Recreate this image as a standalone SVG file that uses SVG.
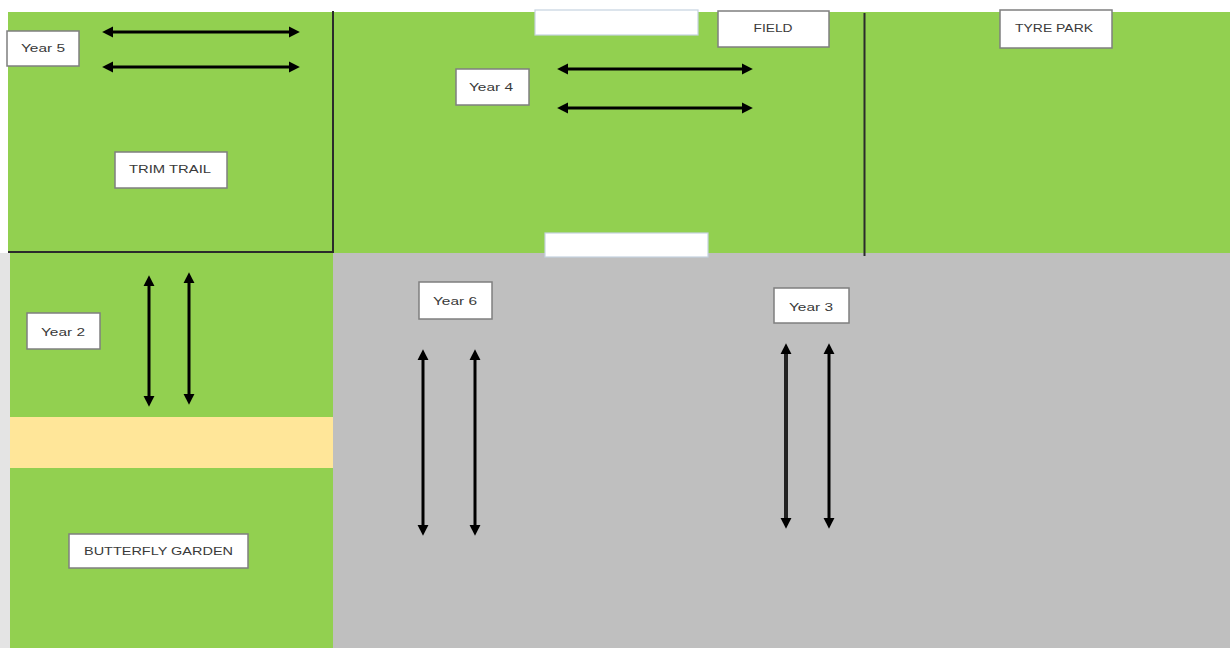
<svg xmlns="http://www.w3.org/2000/svg" width="1230" height="648" viewBox="0 0 1230 648">
  <style>
    .grass { fill: #92d050; }
    .hard { fill: #bfbfbf; }
    .path { fill: #ffe699; }
    .wall { stroke: #2b2b2b; stroke-width: 2; fill: none; }
    .label { fill: #ffffff; stroke: #7f7f7f; stroke-width: 1.5; }
    .blank { fill: #ffffff; stroke: #c5d3e0; stroke-width: 1.2; }
    .txt { font-family: "Liberation Sans", Arial, sans-serif; font-size: 11.5px; fill: #3a3a3a; text-anchor: middle; }
    .arrow { stroke: #000000; stroke-width: 3; fill: none; marker-start: url(#head); marker-end: url(#head); }
  </style>
  <defs>
    <marker id="head" viewBox="0 0 10 10" refX="6.5" refY="5" markerWidth="11" markerHeight="12" markerUnits="userSpaceOnUse" orient="auto-start-reverse">
      <path d="M0,0 L10,5 L0,10 z" fill="#000000"/>
    </marker>
  </defs>

  <rect x="0" y="0" width="1230" height="648" fill="#ffffff"/>

  <g id="ground">
    <rect class="grass" x="8" y="12" width="1222" height="241"/>
    <rect x="0" y="253" width="10" height="395" fill="#e4e4e4"/>
    <rect class="grass" x="10" y="253" width="323" height="395"/>
    <rect class="hard" x="333" y="253" width="897" height="395"/>
    <rect class="path" x="10" y="417" width="323" height="51"/>
    <line class="wall" x1="333" y1="11" x2="333" y2="253"/>
    <line class="wall" x1="8" y1="252" x2="334" y2="252"/>
    <line class="wall" x1="864.5" y1="13" x2="864.5" y2="256"/>
  </g>

  <g id="connectors">
    <line class="arrow" x1="106" y1="32" x2="296" y2="32"/>
    <line class="arrow" x1="106" y1="67" x2="296" y2="67"/>
    <line class="arrow" x1="561" y1="69" x2="749" y2="69"/>
    <line class="arrow" x1="561" y1="108" x2="749" y2="108"/>
    <line class="arrow" x1="149" y1="279" x2="149" y2="403"/>
    <line class="arrow" x1="189" y1="276" x2="189" y2="401"/>
    <line class="arrow" x1="423" y1="353" x2="423" y2="532"/>
    <line class="arrow" x1="475" y1="353" x2="475" y2="532"/>
    <line class="arrow" x1="786" y1="347" x2="786" y2="525" style="stroke:#222;stroke-width:4"/>
    <line class="arrow" x1="829" y1="347" x2="829" y2="525"/>
  </g>

  <g id="blank-top">
    <rect class="blank" x="535" y="10" width="163" height="25"/>
  </g>
  <g id="blank-bottom">
    <rect class="blank" x="545" y="233" width="163" height="24"/>
  </g>

  <g id="year5">
    <rect class="label" x="7" y="31" width="72" height="35"/>
    <text class="txt" x="43" y="52" textLength="44" lengthAdjust="spacingAndGlyphs">Year 5</text>
  </g>
  <g id="trim-trail">
    <rect class="label" x="115" y="152" width="112" height="36"/>
    <text class="txt" x="170" y="173" textLength="82" lengthAdjust="spacingAndGlyphs">TRIM TRAIL</text>
  </g>
  <g id="field">
    <rect class="label" x="718" y="11" width="111" height="36"/>
    <text class="txt" x="773" y="32" textLength="39" lengthAdjust="spacingAndGlyphs">FIELD</text>
  </g>
  <g id="year4">
    <rect class="label" x="456" y="69" width="73" height="36"/>
    <text class="txt" x="491" y="91" textLength="44" lengthAdjust="spacingAndGlyphs">Year 4</text>
  </g>
  <g id="tyre-park">
    <rect class="label" x="1000" y="10" width="112" height="38"/>
    <text class="txt" x="1054" y="32" textLength="78" lengthAdjust="spacingAndGlyphs">TYRE PARK</text>
  </g>
  <g id="year2">
    <rect class="label" x="27" y="313" width="73" height="36"/>
    <text class="txt" x="63" y="336" textLength="44" lengthAdjust="spacingAndGlyphs">Year 2</text>
  </g>
  <g id="butterfly-garden">
    <rect class="label" x="69" y="534" width="179" height="34"/>
    <text class="txt" x="158.5" y="555" textLength="149" lengthAdjust="spacingAndGlyphs">BUTTERFLY GARDEN</text>
  </g>
  <g id="year6">
    <rect class="label" x="419" y="282" width="73" height="37"/>
    <text class="txt" x="455" y="305" textLength="44" lengthAdjust="spacingAndGlyphs">Year 6</text>
  </g>
  <g id="year3">
    <rect class="label" x="774" y="288" width="75" height="35"/>
    <text class="txt" x="811" y="311" textLength="44" lengthAdjust="spacingAndGlyphs">Year 3</text>
  </g>
</svg>
